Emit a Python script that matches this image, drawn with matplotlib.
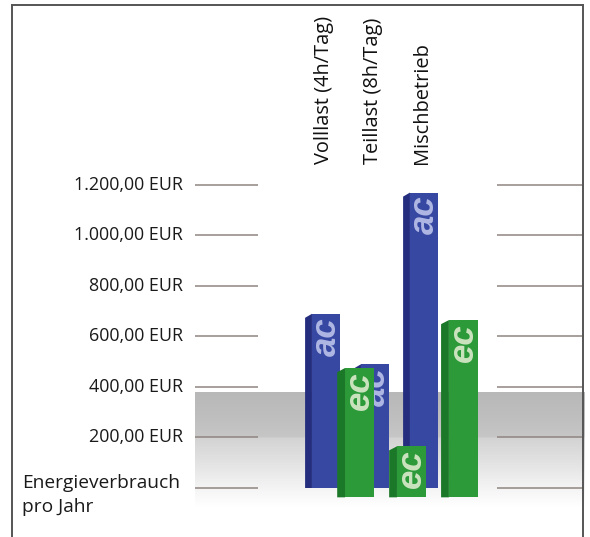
import numpy as np
import matplotlib.pyplot as plt
from matplotlib.patches import Polygon
from matplotlib.lines import Line2D
from matplotlib.colors import LinearSegmentedColormap

# --- data -------------------------------------------------------------
categories = ["Volllast (4h/Tag)", "Teillast (8h/Tag)", "Mischbetrieb"]
ac_values = [690, 490, 1170]      # EUR per year, AC motor
ec_values = [475, 165, 665]       # EUR per year, EC motor
tick_values = [200, 400, 600, 800, 1000, 1200]
tick_labels = ["200,00 EUR", "400,00 EUR", "600,00 EUR",
               "800,00 EUR", "1.000,00 EUR", "1.200,00 EUR"]
axis_title = "Energieverbrauch\npro Jahr"
series_names = ["ac", "ec"]

# --- figure -----------------------------------------------------------
W, H = 590, 537
fig = plt.figure(figsize=(W / 100, H / 100), dpi=100)
ax = fig.add_axes([0, 0, 1, 1])
ax.set_xlim(-6.571, 5.469)
ax.set_ylim(-194.1, 1932.7)
ax.axis("off")

FONT = "Open Sans"

# backdrop: grey floor band fading to white
band_top, band_bottom = 380, -75
stops = [(0.0, "#b8b8b8"), (0.20, "#bebebe"), (0.39, "#c6c6c6"),
         (0.40, "#d3d3d3"), (0.62, "#e3e3e3"), (0.85, "#f5f5f5"), (1.0, "#ffffff")]
cmap = LinearSegmentedColormap.from_list("floor", stops)
grad = np.linspace(0, 1, 256).reshape(-1, 1)
ax.imshow(grad, cmap=cmap, aspect="auto", interpolation="bilinear",
          extent=[-2.6, 5.35, band_bottom, band_top], origin="upper", zorder=0)

# grid segments on both sides of the bars
grid_color = "#8f8580"
ax.hlines([0] + tick_values, -2.59, -1.31, color=grid_color, lw=1.1, zorder=1)
ax.hlines([0] + tick_values, 3.57, 5.33, color=grid_color, lw=1.1, zorder=1)

# value labels
for v, lab in zip(tick_values, tick_labels):
    ax.text(-2.84, v, lab, ha="right", va="center", fontsize=12.9,
            family=FONT, color="#1a1a1a", zorder=2)
ax.text(-6.12, -28, axis_title, ha="left", va="center", fontsize=13.8,
        family=FONT, color="#1a1a1a", linespacing=1.45, zorder=2)

# category labels
for i, cat in enumerate(categories):
    ax.text(i + 0.05, 1282, cat, rotation=90, ha="center", va="bottom",
            fontsize=14.4, family=FONT, color="#111111")


def draw_bars(xs, values, base, width, side_w, face, side, text_col, name, z):
    xs = np.asarray(xs)
    bars = ax.bar(xs, np.asarray(values) - base, bottom=base, width=width,
                  color=face, edgecolor="none", zorder=z)
    for rect, x, v in zip(bars, xs, values):
        xl = x - width / 2
        ax.add_patch(Polygon([(xl - side_w, base), (xl, base), (xl, v),
                              (xl - side_w, v - 16)], closed=True,
                             facecolor=side, edgecolor="none", zorder=z))
        t = ax.text(x, v - 12, name, rotation=90, ha="center", va="top",
                    fontsize=25, family="Liberation Sans", weight="bold",
                    style="italic", color=text_col, alpha=0.85, zorder=z + 0.5)
        t.set_clip_path(rect)


cat_x = np.arange(len(categories))
# back row (ac) and front row (ec, slightly wider spaced and lower)
draw_bars(cat_x + 0.08, ac_values, 0, 0.57, 0.14,
          "#3748a3", "#242d7e", "#c4caee", series_names[0], 3)
draw_bars(cat_x * 1.06 + 0.77, ec_values, -37, 0.60, 0.16,
          "#2d9a39", "#1c7829", "#e6f0d6", series_names[1], 5)

# outer frame (open at the bottom)
frame = dict(color="#555555", lw=1.4, transform=fig.transFigure)
fig.add_artist(Line2D([12 / W, 12 / W], [0, 1 - 5 / H], **frame))
fig.add_artist(Line2D([12 / W, 583 / W], [1 - 5 / H, 1 - 5 / H], **frame))
fig.add_artist(Line2D([583 / W, 583 / W], [0, 1 - 5 / H], **frame))

fig.savefig("out.png", dpi=100)
